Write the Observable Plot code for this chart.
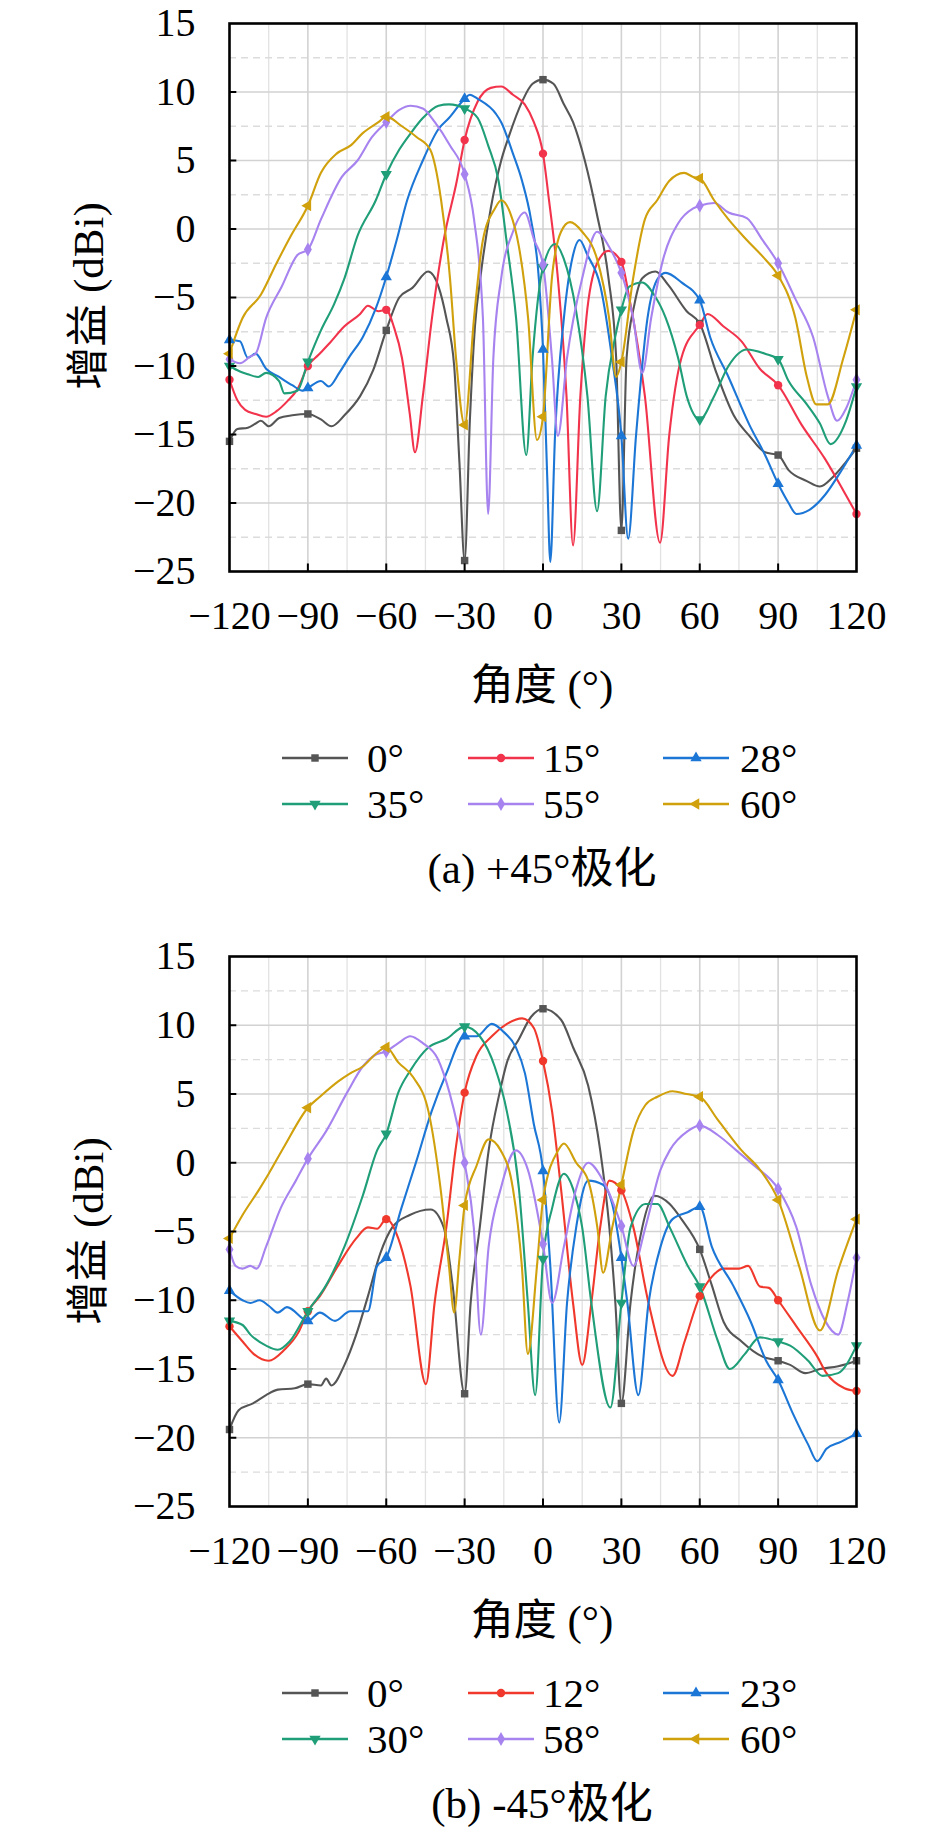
<!DOCTYPE html>
<html>
<head>
<meta charset="utf-8">
<script src="https://cdn.jsdelivr.net/npm/d3@7"></script>
<script src="https://cdn.jsdelivr.net/npm/@observablehq/plot@0.6"></script>
<style>
  html, body { margin: 0; padding: 0; background: #fff; }
  #root { position: relative; width: 945px; height: 1836px; overflow: hidden; background: #fff; }
  .abs { position: absolute; white-space: nowrap; color: #000;
         font-family: "Liberation Serif", "Noto Sans CJK SC", serif; line-height: 1; }
  .panel { position: absolute; left: 0; }
</style>
</head>
<body>
<div id="root"></div>
<script>
// ---------- axis ticks ----------
const xTicks = [-120, -90, -60, -30, 0, 30, 60, 90, 120];
const yTicks = [-25, -20, -15, -10, -5, 0, 5, 10, 15];
const xMinor = [-105, -75, -45, -15, 15, 45, 75, 105];
const yMinor = [-22.5, -17.5, -12.5, -7.5, -2.5, 2.5, 7.5, 12.5];

// ---------- panel (a) +45° polarization ----------
const a_labels = ["0°", "15°", "28°", "35°", "55°", "60°"];
const a_0 = [[-120,-15.5],[-117,-14.6],[-113,-14.5],[-110,-14.2],[-108,-14],[-105,-14.4],[-101,-13.8],[-96,-13.6],[-90,-13.5],[-85,-13.9],[-81,-14.4],[-76,-13.6],[-70,-12.2],[-65,-10.3],[-60,-7.4],[-55,-5],[-50,-4.3],[-44,-3.1],[-40,-4.2],[-37,-6.5],[-34,-10],[-32,-17],[-30,-24.2],[-28,-14],[-26,-7],[-24,-3.6],[-20,1.5],[-16,5],[-13,6.8],[-8,9.3],[-4,10.6],[0,10.9],[4,10.6],[8,9.1],[11.5,7.8],[16,5],[20.5,1.2],[25,-3.5],[28,-9.4],[30,-22],[32,-9.4],[35,-5.5],[38,-3.6],[43,-3.1],[48,-4.1],[55,-6],[60,-6.9],[66,-10.3],[73,-13.6],[79,-15.1],[85,-16.3],[90,-16.5],[94,-17.6],[101,-18.4],[106,-18.8],[111,-18.1],[116,-17],[120,-16]];
const a_15 = [[-120,-11],[-117,-12.5],[-114,-13.2],[-110,-13.5],[-106,-13.7],[-102,-13.3],[-98,-12.6],[-94,-11.7],[-90,-10],[-86,-9.2],[-82,-8.4],[-76,-7.1],[-70,-6.2],[-67,-5.6],[-63,-6],[-60,-5.9],[-57,-7.2],[-54,-9.4],[-51,-13.5],[-49,-16.3],[-46,-12.2],[-42.5,-6.5],[-38,-0.8],[-33,3.5],[-30,6.5],[-25,9.3],[-20,10.3],[-16,10.4],[-11.5,9.8],[-7,9.1],[-3.5,7.8],[0,5.5],[2.3,2.1],[5.7,-3.6],[9,-12.2],[11.5,-23.1],[14.3,-12.2],[16.6,-6.5],[20.7,-2.5],[25,-1.6],[30,-2.4],[33,-5],[39,-12.2],[44.8,-22.9],[48.3,-15.1],[53,-9.4],[60,-7],[63,-6.2],[69,-7.1],[76,-8.2],[83,-10.2],[90,-11.4],[99,-14.3],[108,-16.8],[115,-19.1],[120,-20.8]];
const a_28 = [[-120,-8.1],[-116,-8.2],[-113,-9.4],[-110,-9.1],[-106,-10.2],[-101,-10.8],[-96,-11.4],[-92,-11.8],[-90,-11.6],[-85,-11.1],[-82,-11.5],[-78,-10.5],[-74,-9.3],[-69,-7.9],[-64,-5.8],[-60,-3.5],[-56,-0.8],[-52,2.1],[-46,5],[-40,7.3],[-36,8.1],[-30,9.5],[-28,9.8],[-25,9.5],[-18,8.4],[-16,7.8],[-11.5,5.5],[-8,3.5],[-4.6,0.7],[-1.6,-3.6],[0,-8.8],[1.6,-18],[2.8,-24.3],[4.6,-15.1],[8,-6.5],[11.5,-1.9],[14,-0.8],[17,-1.9],[22,-4.2],[26.4,-9.4],[30,-15.1],[32.6,-22.6],[35.6,-15.1],[40,-6.5],[44,-3.6],[47,-3.2],[53,-3.9],[60,-5.2],[64,-7.9],[71,-10.8],[79,-14.3],[85,-16.5],[90,-18.6],[94,-20],[97,-20.8],[102,-20.5],[108,-19.4],[113,-18],[120,-15.8]];
const a_35 = [[-120,-10],[-116,-10.4],[-113,-10.6],[-109,-10.8],[-106,-10.5],[-101,-11.1],[-99,-12],[-94,-11.8],[-90,-9.7],[-85,-7.4],[-80,-5.5],[-76,-3.6],[-71,-0.5],[-64,2.1],[-60,4],[-55,5.8],[-50.6,7],[-46,8.1],[-40,9],[-36,9.1],[-30,8.8],[-25,8.1],[-21,6.1],[-17,3.5],[-14,-0.8],[-10.3,-6.5],[-6.4,-16.5],[-4,-9.4],[0,-2.8],[4.6,-1.1],[8,-2.2],[12.6,-5.9],[17,-12.2],[20.7,-20.6],[24,-12.2],[27.6,-7.9],[30,-5.9],[33,-4.2],[38,-3.9],[42.5,-4.8],[47,-6.5],[51.7,-9.4],[55,-12.2],[60,-13.9],[65.5,-12.2],[71,-10],[78,-8.8],[85,-9.1],[90,-9.5],[94,-11.1],[101,-12.8],[106,-14.2],[110,-15.7],[116,-14],[120,-11.5]];
const a_55 = [[-120,-9.5],[-116,-9.8],[-112,-9.3],[-110,-9.1],[-106,-6.5],[-100,-4.2],[-94,-1.9],[-90,-1.5],[-85,0.7],[-77,3.8],[-71,5],[-65.5,6.7],[-60,7.8],[-55,8.7],[-50.6,9],[-46,8.8],[-41.4,7.8],[-35.6,6.1],[-30,4],[-26.4,0.7],[-23,-6.5],[-21,-20.8],[-19,-9.4],[-16,-3.6],[-11.5,-0.2],[-7,1.2],[-3.4,-0.8],[0,-2.6],[3.4,-9.4],[5.7,-15.1],[9.2,-9.4],[15,-3.6],[20.7,-0.2],[25.3,-1.3],[30,-3.2],[34.5,-6.5],[38,-10.5],[41.4,-6.5],[46,-2.2],[51.7,0.4],[57.5,1.5],[60,1.7],[65.5,1.9],[71,1.2],[78,0.8],[84,-0.8],[90,-2.5],[96.6,-5.1],[103.4,-7.9],[109,-12.2],[112.6,-14],[116,-13.1],[120,-11]];
const a_60 = [[-120,-9.1],[-115,-6.5],[-108,-4.8],[-102,-2.5],[-96.5,-0.5],[-90,1.7],[-85,4.1],[-79,5.5],[-73.6,6.1],[-69,7],[-63,7.8],[-60,8.2],[-54,7.5],[-48.3,6.7],[-43.2,5.8],[-39,2.1],[-35.6,-3.6],[-33.3,-9.4],[-30,-14.3],[-26.4,-6.5],[-23,-0.8],[-18.4,1.5],[-16,2.1],[-12.6,1.2],[-9.2,-1.3],[-5.7,-6.5],[-2.3,-15.4],[0,-13.7],[3.4,-3.6],[6.9,-0.2],[10.3,0.5],[15,-0.2],[20.7,-2.2],[25.3,-6.5],[28,-10.8],[30,-9.7],[34.5,-3.6],[39,0.7],[43.7,2.1],[48.3,3.5],[54,4.1],[57.5,3.8],[60,3.7],[65.5,2.1],[71,0.7],[78,-0.8],[85,-2.2],[90,-3.4],[96.6,-6.5],[101,-10.8],[104.6,-12.8],[109,-12.8],[115,-9.4],[120,-5.9]];

// ---------- panel (b) -45° polarization ----------
const b_labels = ["0°", "12°", "23°", "30°", "58°", "60°"];
const b_0 = [[-120,-19.4],[-116.5,-18],[-111,-17.5],[-106,-16.9],[-101.5,-16.5],[-95,-16.4],[-90,-16.1],[-85,-16.2],[-83,-15.7],[-81,-16.2],[-76,-14.7],[-71.5,-12.5],[-67,-9.7],[-62.3,-6.6],[-57.7,-4.7],[-51,-3.8],[-43,-3.4],[-38,-4.7],[-34.6,-8.9],[-30,-16.8],[-27.7,-10.2],[-24.2,-4.7],[-20.8,0.9],[-16.6,5.1],[-13.8,7.3],[-9.2,9],[-4.6,10.6],[0,11.2],[6.9,10.4],[11.5,8.4],[17.3,5.6],[21.9,0.9],[25.4,-4.7],[27.7,-10.2],[30,-17.5],[33.5,-10.2],[38,-4.7],[42.7,-2.4],[48.5,-3],[53,-4.1],[60,-6.3],[64.6,-8.9],[69.2,-11.6],[76,-13],[84,-14.1],[90,-14.4],[94.6,-14.7],[100.4,-15.3],[106,-15],[113,-14.8],[120,-14.4]];
const b_12 = [[-120,-11.9],[-115,-13],[-110.8,-13.9],[-105,-14.4],[-99,-13.6],[-93.5,-12.3],[-90,-10.8],[-85.4,-9.7],[-78.5,-7.5],[-71.5,-5.5],[-67,-4.7],[-63.5,-4.8],[-60,-4.1],[-55.4,-5.5],[-50.8,-8.9],[-44.8,-16.1],[-41.5,-10.2],[-37,-4.7],[-33.5,0.9],[-30,5.1],[-25.4,7.8],[-19.6,9.2],[-13.8,10.1],[-8,10.5],[-3.5,9.8],[0,7.4],[3.5,3.7],[6.9,-1.9],[11.5,-10.2],[15,-14.7],[18.5,-10.2],[21.9,-4.7],[25.4,-1.3],[30,-2],[34.6,-4.7],[40.4,-10.2],[49.6,-15.5],[54.2,-13],[60,-9.7],[64.6,-8.3],[69.2,-7.7],[75,-7.7],[78.5,-7.5],[83,-9],[86.5,-9.1],[90,-10],[97,-11.9],[105,-14.1],[108.5,-15.3],[115.4,-16.4],[120,-16.6]];
const b_23 = [[-120,-9.3],[-115,-10],[-112,-10.2],[-108.5,-10],[-105,-10.4],[-101.5,-10.9],[-98,-10.5],[-90,-11.5],[-85.4,-10.9],[-79.6,-11.5],[-73.8,-10.8],[-67,-10.8],[-63.5,-7.5],[-60,-6.9],[-54.2,-3.3],[-48.5,0.1],[-42.7,3.7],[-37,6.5],[-30,9.2],[-25.4,9.2],[-19.6,10.1],[-15,9.5],[-10.4,8.4],[-6.9,6.5],[-3.5,2.8],[0,-0.6],[2.8,-7.5],[6.2,-18.9],[9.2,-10.2],[12.7,-4.7],[17.3,-1.3],[23,-1.6],[26.5,-3],[30,-6.9],[32.3,-10.2],[36.5,-16.9],[40.4,-10.2],[45,-6.1],[49.6,-4.1],[55.4,-3.6],[60,-3.2],[64.6,-6.1],[72.7,-8.9],[79.6,-11.6],[85.4,-14.4],[90,-15.8],[95.8,-18.3],[101.5,-20.5],[105,-21.7],[108.5,-20.8],[114,-20.3],[120,-19.7]];
const b_30 = [[-120,-11.5],[-115,-11.8],[-112,-12.5],[-106,-13.3],[-101.5,-13.6],[-97,-13],[-90,-10.8],[-83,-8.9],[-76,-6.1],[-69,-2.4],[-63.5,0.9],[-60,2.1],[-55.4,5.1],[-50.8,6.7],[-43.8,8.4],[-37,9],[-30,9.9],[-24.2,9.2],[-18.5,7],[-13.8,3.7],[-9.2,-1.9],[-5.8,-10.2],[-3,-16.9],[0,-7],[3.5,-3.3],[8,-0.8],[11.5,-1.9],[15,-4.7],[18.5,-10.2],[25.8,-17.8],[30,-10.2],[33.5,-4.7],[39.2,-3],[43.8,-3],[48.5,-4.7],[55.4,-7.5],[60,-9],[67,-13],[71.5,-15],[77.3,-13.9],[83,-12.7],[90,-13],[94.6,-13.3],[101.5,-14.4],[107,-15.5],[113,-15.3],[120,-13.3]];
const b_58 = [[-120,-6.3],[-117.7,-7.5],[-115,-7.7],[-112,-7.5],[-109.6,-7.7],[-106,-6.1],[-100.4,-3.3],[-94.6,-1.3],[-90,0.3],[-83,2.3],[-75,5.1],[-69,7],[-64.6,7.8],[-60,8.1],[-55.4,8.7],[-50.8,9.2],[-46,8.7],[-40.4,7.6],[-35.8,5.1],[-30,0],[-26.5,-4.7],[-23.8,-12.5],[-20.8,-6.1],[-16.2,-1.9],[-10.4,0.9],[-5.8,-0.5],[0,-5.9],[3.5,-10.2],[8,-6.1],[12.7,-1.9],[17.3,0],[23,-1.3],[30,-4.6],[34.6,-7.5],[39.2,-4.7],[45,-0.5],[48.5,0.9],[55.4,2.3],[60,2.7],[67,2],[74,0.9],[80.8,-0.2],[90,-1.9],[97,-4.7],[102.7,-8.9],[108,-11.5],[113,-12.5],[116.5,-10.2],[120,-6.9]];
const b_60 = [[-120,-5.5],[-115,-3.8],[-108.5,-1.9],[-105,-0.8],[-99,1.2],[-90,4],[-85.4,4.8],[-78.5,5.9],[-73.8,6.5],[-69,7],[-63.5,8],[-60,8.4],[-55.4,7.3],[-49.6,6.2],[-43.8,3.7],[-39.2,-1.9],[-36,-7.5],[-34,-10.9],[-32,-7],[-30,-3.1],[-25.4,-0.2],[-20.8,1.7],[-16.2,0.9],[-11.5,-1.9],[-8.1,-7.5],[-5.8,-13.9],[-2.3,-7.5],[0,-2.7],[5.8,0.9],[8,1.4],[12.7,0],[17.3,-1.3],[20.8,-4.7],[23,-8],[26.5,-4.7],[30,-1.6],[34.6,2.3],[39.2,4.2],[43.8,4.8],[49.6,5.2],[55,5],[60,4.8],[67,3.1],[76,0.9],[83,-0.5],[90,-2.7],[98,-7.5],[106,-12.2],[113,-7.8],[120,-4.1]];

// ---------- styling ----------
const sqrt3 = Math.sqrt(3);
const triDown = { draw(ctx, size) { const y = -Math.sqrt(size / (sqrt3 * 3));
  ctx.moveTo(0, -y * 2); ctx.lineTo(-sqrt3 * y, y); ctx.lineTo(sqrt3 * y, y); ctx.closePath(); } };
const triLeft = { draw(ctx, size) { const y = -Math.sqrt(size / (sqrt3 * 3));
  ctx.moveTo(y * 2, 0); ctx.lineTo(-y, -sqrt3 * y); ctx.lineTo(-y, sqrt3 * y); ctx.closePath(); } };
const symbols = ["square", "circle", "triangle", triDown, "diamond", triLeft];
const colorsA = ["#555555", "#f2334c", "#1c76d6", "#1f9e78", "#a783ef", "#d0a10c"];
const colorsB = ["#555555", "#f0382c", "#1c76d6", "#1f9e78", "#a783ef", "#d0a10c"];
const d3sym = { square: d3.symbolSquare, circle: d3.symbolCircle, triangle: d3.symbolTriangle, diamond: d3.symbolDiamond };
const FONT = '"Liberation Serif", "Noto Sans CJK SC", serif';
const R = 4.2;

const root = document.getElementById("root");

function addText(txt, x, y, size, opts = {}) {
  const d = document.createElement("div");
  d.className = "abs";
  d.textContent = txt;
  d.style.left = x + "px";
  d.style.top = y + "px";
  d.style.fontSize = size + "px";
  d.style.transform = (opts.center ? "translate(-50%,-50%)" : "translate(0,-50%)") + (opts.rotate ? " rotate(-90deg)" : "");
  root.appendChild(d);
}

function drawPanel(seriesList, labels, colors, top, mTop, caption) {
  const marks = [
    Plot.ruleX(xMinor, {stroke: "#e2e2e2", strokeWidth: 1.3}),
    Plot.ruleY(yMinor, {stroke: "#dcdcdc", strokeWidth: 1.3, strokeDasharray: "7,5"}),
    Plot.ruleX(xTicks.slice(1, -1), {stroke: "#d2d2d2", strokeWidth: 1.6}),
    Plot.ruleY(yTicks.slice(1, -1), {stroke: "#d2d2d2", strokeWidth: 1.6})
  ];
  seriesList.forEach((s, i) => {
    marks.push(Plot.line(s, {x: d => d[0], y: d => d[1], stroke: colors[i], strokeWidth: 2.1, curve: "monotone-x"}));
  });
  seriesList.forEach((s, i) => {
    marks.push(Plot.dot(s.filter(d => xTicks.includes(d[0])), {x: d => d[0], y: d => d[1], symbol: symbols[i], r: R, fill: colors[i], stroke: "none"}));
  });
  marks.push(
    Plot.ruleX(xTicks.slice(1, -1), {y1: yTicks[0], y2: yTicks[0] + 0.55, stroke: "#000", strokeWidth: 2}),
    Plot.ruleY(yTicks.slice(1, -1), {x1: xTicks[0], x2: xTicks[0] + 2.8, stroke: "#000", strokeWidth: 2}),
    Plot.frame({stroke: "#000", strokeWidth: 2.6}),
    Plot.axisX({ticks: xTicks, tickSize: 0, tickPadding: 29, label: null, fontSize: 40}),
    Plot.axisY({ticks: yTicks, tickSize: 0, tickPadding: 34, label: null, fontSize: 40})
  );
  const chart = Plot.plot({
    width: 945, height: 640,
    marginTop: mTop, marginBottom: 69, marginLeft: 229, marginRight: 89,
    x: {domain: [xTicks[0], xTicks[xTicks.length - 1]]},
    y: {domain: [yTicks[0], yTicks[yTicks.length - 1]]},
    style: {fontFamily: FONT, fontSize: "40px", background: "transparent", overflow: "visible", color: "#000"},
    marks
  });
  const wrap = document.createElement("div");
  wrap.className = "panel";
  wrap.style.top = top + "px";
  wrap.appendChild(chart);
  root.appendChild(wrap);

  const frameTop = top + 20, frameBottom = top + 571;
  // axis titles
  addText("增益 (dBi)", 88, (frameTop + frameBottom) / 2, 43, {center: true, rotate: true});
  addText("角度 (°)", 542, frameBottom + 114, 43, {center: true});
  // legend
  const colLine = [282, 468, 663], colText = [367, 543, 740];
  const rows = [frameBottom + 187, frameBottom + 233];
  labels.forEach((lab, i) => {
    const col = i % 3, row = Math.floor(i / 3);
    const svg = d3.create("svg").attr("width", 66).attr("height", 20)
      .style("position", "absolute").style("left", colLine[col] + "px").style("top", (rows[row] - 10) + "px");
    svg.append("line").attr("x1", 0).attr("x2", 66).attr("y1", 10).attr("y2", 10)
      .attr("stroke", colors[i]).attr("stroke-width", 2.4);
    const t = typeof symbols[i] === "string" ? d3sym[symbols[i]] : symbols[i];
    svg.append("path").attr("transform", "translate(33,10)")
      .attr("d", d3.symbol().type(t).size(Math.PI * R * R)()).attr("fill", colors[i]);
    root.appendChild(svg.node());
    addText(lab, colText[col], rows[row], 41);
  });
  addText(caption, 542, frameBottom + 297, 43, {center: true});
}

drawPanel([a_0, a_15, a_28, a_35, a_55, a_60], a_labels, colorsA, 0, 23, "(a) +45°极化");
drawPanel([b_0, b_12, b_23, b_30, b_58, b_60], b_labels, colorsB, 935, 21, "(b) -45°极化");
</script>
</body>
</html>
